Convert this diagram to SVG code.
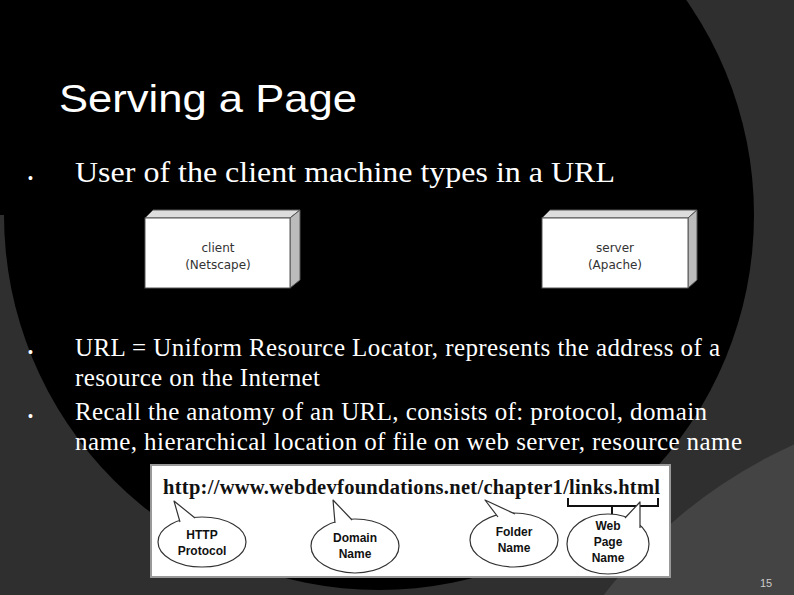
<svg xmlns="http://www.w3.org/2000/svg" width="794" height="595" viewBox="0 0 794 595">
<style>
.t{font-family:"Liberation Serif",serif;font-size:25px;fill:#fff}
.b{font-family:"Liberation Sans",sans-serif;font-size:14px;fill:#fff}
.box{fill:#fff;stroke:#555;stroke-width:1}
.side{fill:#bbb;stroke:#555;stroke-width:1}
.top{fill:#ddd;stroke:#555;stroke-width:1}
.bl{font-family:"DejaVu Sans",sans-serif;font-size:12px;fill:#333;text-anchor:middle}
.bb{font-family:"Liberation Sans",sans-serif;font-size:12px;font-weight:bold;fill:#111;text-anchor:middle}
.ell{fill:#fff;stroke:#333;stroke-width:1.2}
.tail{fill:#fff;stroke:#333;stroke-width:1.2;stroke-linejoin:round}
</style>
<rect width="794" height="595" fill="#2f2f2f"/>
<circle cx="1000" cy="900" r="500" fill="#444"/>
<circle cx="379" cy="215" r="375" fill="#000"/>
<rect x="0" y="0" width="379" height="215" fill="#000"/>
<text x="59" y="112" font-family="Liberation Sans,sans-serif" font-size="39" fill="#fff" textLength="298" lengthAdjust="spacingAndGlyphs">Serving a Page</text>
<text class="b" x="28" y="183">•</text>
<text x="75" y="182" font-family="Liberation Serif,serif" font-size="29" fill="#fff" textLength="540" lengthAdjust="spacingAndGlyphs">User of the client machine types in a URL</text>
<g id="client">
<polygon class="top" points="145,218 153,210 300,210 290,218"/>
<polygon class="side" points="290,218 300,210 300,280 290,288"/>
<rect class="box" x="145" y="218" width="145" height="70"/>
<text class="bl" x="218" y="252">client</text>
<text class="bl" x="218" y="269">(Netscape)</text>
</g>
<g id="server">
<polygon class="top" points="542,218 550,210 697,210 688,218"/>
<polygon class="side" points="688,218 697,210 697,280 688,288"/>
<rect class="box" x="542" y="218" width="146" height="70"/>
<text class="bl" x="615" y="252">server</text>
<text class="bl" x="615" y="269">(Apache)</text>
</g>
<text class="b" x="28" y="357">•</text>
<text class="t" x="75" y="356" textLength="645">URL = Uniform Resource Locator, represents the address of a</text>
<text class="t" x="75" y="386" textLength="245">resource on the Internet</text>
<text class="b" x="28" y="421">•</text>
<text class="t" x="75" y="420" textLength="632">Recall the anatomy of an URL, consists of: protocol, domain</text>
<text class="t" x="75" y="450" textLength="667">name, hierarchical location of file on web server, resource name</text>
<g id="url">
<rect x="151" y="465" width="519" height="112" fill="#fff" stroke="#999" stroke-width="2"/>
<text x="163" y="494" font-family="Liberation Serif,serif" font-size="20.5" font-weight="bold" fill="#111" textLength="497">http://www.webdevfoundations.net/chapter1/links.html</text>
<path d="M568,498 V506 H658 V498 M612,506 V514" fill="none" stroke="#111" stroke-width="2"/>
</g>
<g id="bubbles">
<ellipse class="ell" cx="202" cy="542" rx="44" ry="25"/>
<ellipse class="ell" cx="355" cy="546" rx="44" ry="27"/>
<ellipse class="ell" cx="514" cy="540" rx="44" ry="27"/>
<ellipse class="ell" cx="608" cy="544" rx="41" ry="30"/>
</g>
<g id="connectors">
<path class="tail" d="M180,522 L174,501 L195,518"/>
<path class="tail" d="M335,523 L333,500 L352,520"/>
<path class="tail" d="M498,517 L485,500 L515,514"/>
<path class="tail" d="M625,518 L640,502 L640,528"/>
</g>
<g id="labels">
<text class="bb" x="202" y="539">HTTP</text>
<text class="bb" x="202" y="555">Protocol</text>
<text class="bb" x="355" y="542">Domain</text>
<text class="bb" x="355" y="558">Name</text>
<text class="bb" x="514" y="536">Folder</text>
<text class="bb" x="514" y="552">Name</text>
<text class="bb" x="608" y="530">Web</text>
<text class="bb" x="608" y="546">Page</text>
<text class="bb" x="608" y="562">Name</text>
</g>
<text x="760" y="587" font-family="Liberation Sans,sans-serif" font-size="11" fill="#ccc">15</text>
</svg>
